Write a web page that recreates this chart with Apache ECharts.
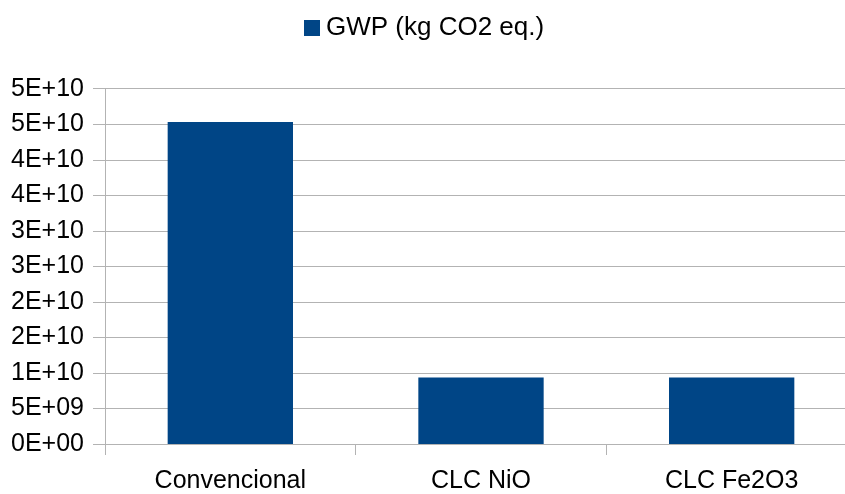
<!DOCTYPE html>
<html>
<head>
<meta charset="utf-8">
<script src="https://cdn.jsdelivr.net/npm/echarts@6/dist/echarts.min.js"></script>
<style>html,body{margin:0;padding:0;background:#fff;overflow:hidden;width:845px;height:494px}#c{width:857px;height:494px}</style>
</head>
<body>
<div id="c"></div>
<script>
const categories = ["Convencional", "CLC NiO", "CLC Fe2O3"];
const seriesName = "GWP (kg CO2 eq.)";
const gwpValues = [4.53e10, 9.35e9, 9.35e9];
const yMin = 0, yMax = 5e10, yInterval = 5e9;

function sci(v) {
  const s = Number(v).toExponential(0).toUpperCase();
  const parts = s.split("E");
  let exp = parts[1];
  const sign = exp[0];
  let digits = exp.slice(1);
  if (digits.length < 2) digits = "0" + digits;
  return parts[0] + "E" + sign + digits;
}

const chart = echarts.init(document.getElementById('c'));
const font = "'Liberation Sans', Arial, sans-serif";
chart.setOption({
  animation: false,
  textStyle: { fontFamily: font },
  legend: {
    top: 10, left: 299,
    icon: 'rect', itemWidth: 16, itemHeight: 16, itemGap: 8,
    textStyle: { fontSize: 26, color: '#000', fontFamily: font, padding: [0, 0, 0, 1] },
    data: [seriesName]
  },
  grid: { left: 105, right: 0, top: 88.7, bottom: 48.3, containLabel: false },
  xAxis: {
    type: 'category',
    data: categories,
    axisLine: { show: true, lineStyle: { color: '#b3b3b3', width: 1 } },
    axisTick: { show: true, length: 11, lineStyle: { color: '#b3b3b3' } },
    axisLabel: { fontSize: 25, color: '#000', margin: 25, fontFamily: font }
  },
  yAxis: {
    type: 'value',
    min: yMin, max: yMax, interval: yInterval,
    axisLine: { show: true, lineStyle: { color: '#b3b3b3', width: 1 } },
    axisTick: { show: true, length: 12, lineStyle: { color: '#b3b3b3' } },
    splitLine: { show: true, lineStyle: { color: '#b3b3b3', width: 1 } },
    axisLabel: { fontSize: 25, color: '#000', margin: 21, fontFamily: font, formatter: sci }
  },
  series: [{
    name: seriesName,
    type: 'bar',
    data: gwpValues,
    barCategoryGap: '50%',
    itemStyle: { color: '#004586' }
  }]
});
</script>
</body>
</html>
